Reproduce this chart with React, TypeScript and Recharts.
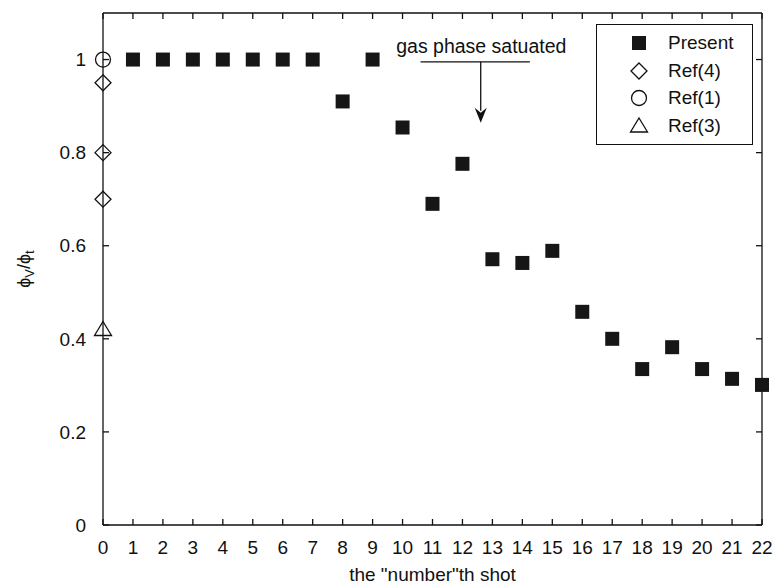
import React from "react";
import { ScatterChart, Scatter, XAxis, YAxis, Legend, ReferenceLine, ReferenceDot } from "recharts";

// shot number -> phi_v / phi_t
const shots = [1, 2, 3, 4, 5, 6, 7, 8, 9, 10, 11, 12, 13, 14, 15, 16, 17, 18, 19, 20, 21, 22];
const presentValues = [1, 1, 1, 1, 1, 1, 1, 0.91, 1, 0.854, 0.69, 0.776, 0.571, 0.563, 0.589, 0.458, 0.4, 0.335, 0.382, 0.335, 0.314, 0.301];
const ref4Values = [0.95, 0.8, 0.7];
const ref1Values = [1.0];
const ref3Values = [0.42];

const seriesNames = ["Present", "Ref(4)", "Ref(1)", "Ref(3)"];
const xTicks = [0, 1, 2, 3, 4, 5, 6, 7, 8, 9, 10, 11, 12, 13, 14, 15, 16, 17, 18, 19, 20, 21, 22];
const yTicks = [0, 0.2, 0.4, 0.6, 0.8, 1];

const present = shots.map((x, i) => ({ x, y: presentValues[i] }));
const ref4 = ref4Values.map((y) => ({ x: 0, y }));
const ref1 = ref1Values.map((y) => ({ x: 0, y }));
const ref3 = ref3Values.map((y) => ({ x: 0, y }));

const INK = "#111";
const FONT = '"Liberation Sans", Arial, Helvetica, sans-serif';

const Square = ({ cx, cy }: any) => <rect x={cx - 7} y={cy - 7} width={14} height={14} fill="#161616" />;
const Diamond = ({ cx, cy }: any) => (
  <polygon points={`${cx},${cy - 8} ${cx + 8},${cy} ${cx},${cy + 8} ${cx - 8},${cy}`} fill="none" stroke={INK} strokeWidth={1.3} />
);
const Ring = ({ cx, cy }: any) => <circle cx={cx} cy={cy} r={7.5} fill="none" stroke={INK} strokeWidth={1.3} />;
const Triangle = ({ cx, cy }: any) => (
  <polygon points={`${cx},${cy - 8} ${cx + 8.5},${cy + 6} ${cx - 8.5},${cy + 6}`} fill="none" stroke={INK} strokeWidth={1.3} />
);
const none = () => <g />;

const ICONS: Record<string, (p: any) => React.ReactElement> = {
  Present: Square,
  "Ref(4)": Diamond,
  "Ref(1)": Ring,
  "Ref(3)": Triangle,
};

const LegendBox = () => (
  <div
    style={{
      boxSizing: "border-box",
      width: 157,
      height: 121,
      paddingTop: 4,
      border: `1.5px solid ${INK}`,
      background: "#fff",
      fontFamily: FONT,
      fontSize: 19,
      color: INK,
    }}
  >
    {seriesNames.map((name) => {
      const Icon = ICONS[name];
      return (
        <div key={name} style={{ height: 27.7, display: "flex", alignItems: "center" }}>
          <svg width={20} height={20} style={{ marginLeft: 32 }}>
            <Icon cx={10} cy={10} />
          </svg>
          <span style={{ marginLeft: 19, lineHeight: "20px" }}>{name}</span>
        </div>
      );
    })}
  </div>
);

const YLabel = () => (
  <text transform="translate(30,269) rotate(-90)" textAnchor="middle" fontSize={18} fill={INK}>
    ϕ
    <tspan fontSize={13} dy={4}>V</tspan>
    <tspan fontSize={18} dy={-4}>/ϕ</tspan>
    <tspan fontSize={13} dy={4}>t</tspan>
  </text>
);

const XLabel = ({ viewBox }: any) => (
  <text x={viewBox.x + viewBox.width / 2} y={581} textAnchor="middle" fontSize={19} fill={INK}>
    the "number"th shot
  </text>
);

const Note = ({ cx, cy }: any) => (
  <text x={cx} y={cy} textAnchor="middle" fontSize={19.5} fill={INK} fontFamily={FONT}>
    gas phase satuated
  </text>
);

const ArrowHead = ({ cx, cy }: any) => (
  <polygon points={`${cx},${cy} ${cx + 6},${cy - 15} ${cx},${cy - 10} ${cx - 6},${cy - 15}`} fill={INK} />
);

export default function App() {
  return (
    <div style={{ position: "absolute", left: 0, top: 0, fontFamily: FONT }}>
      <ScatterChart width={784} height={586} margin={{ top: 13, right: 22, bottom: 31, left: 43 }}>
        <XAxis
          xAxisId="main"
          dataKey="x"
          type="number"
          domain={[0, 22]}
          ticks={xTicks}
          interval={0}
          axisLine={false}
          tickLine={false}
          tickSize={0}
          tickMargin={16}
          height={30}
          tick={{ fontSize: 19, fill: INK }}
          label={XLabel}
        />
        <XAxis xAxisId="bottomTicks" dataKey="x" type="number" domain={[0, 22]} ticks={xTicks} interval={0} orientation="bottom" mirror tick={none} tickSize={6} stroke={INK} strokeWidth={1.3} />
        <XAxis xAxisId="topTicks" dataKey="x" type="number" domain={[0, 22]} ticks={xTicks} interval={0} orientation="top" mirror tick={none} tickSize={6} stroke={INK} strokeWidth={1.3} />
        <YAxis
          yAxisId="main"
          dataKey="y"
          type="number"
          domain={[0, 1.1]}
          ticks={yTicks}
          axisLine={false}
          tickLine={false}
          tickSize={0}
          tickMargin={17}
          width={60}
          tick={{ fontSize: 19, fill: INK }}
          label={YLabel}
        />
        <YAxis yAxisId="leftTicks" dataKey="y" type="number" domain={[0, 1.1]} ticks={yTicks} interval={0} orientation="left" mirror tick={none} tickSize={6} stroke={INK} strokeWidth={1.3} />
        <YAxis yAxisId="rightTicks" dataKey="y" type="number" domain={[0, 1.1]} ticks={yTicks} interval={0} orientation="right" mirror tick={none} tickSize={6} stroke={INK} strokeWidth={1.3} />

        {/* invisible copies so the frame axes carry data and draw their ticks */}
        <Scatter xAxisId="bottomTicks" yAxisId="leftTicks" data={present} shape={none} legendType="none" isAnimationActive={false} />
        <Scatter xAxisId="topTicks" yAxisId="rightTicks" data={present} shape={none} legendType="none" isAnimationActive={false} />

        <ReferenceLine xAxisId="main" yAxisId="main" segment={[{ x: 10.6, y: 0.995 }, { x: 14.25, y: 0.995 }]} stroke={INK} strokeWidth={1.3} />
        <ReferenceLine xAxisId="main" yAxisId="main" segment={[{ x: 12.61, y: 0.995 }, { x: 12.61, y: 0.89 }]} stroke={INK} strokeWidth={1.3} />
        <ReferenceDot xAxisId="main" yAxisId="main" x={12.61} y={0.864} shape={ArrowHead} />
        <ReferenceDot xAxisId="main" yAxisId="main" x={12.63} y={1.0134} shape={Note} />

        <Scatter name="Present" xAxisId="main" yAxisId="main" data={present} shape={Square} isAnimationActive={false} />
        <Scatter name="Ref(4)" xAxisId="main" yAxisId="main" data={ref4} shape={Diamond} isAnimationActive={false} />
        <Scatter name="Ref(1)" xAxisId="main" yAxisId="main" data={ref1} shape={Ring} isAnimationActive={false} />
        <Scatter name="Ref(3)" xAxisId="main" yAxisId="main" data={ref3} shape={Triangle} isAnimationActive={false} />

        <Legend
          layout="vertical"
          align="center"
          verticalAlign="middle"
          content={LegendBox}
          wrapperStyle={{ position: "absolute", left: 596, top: 24, width: 157, height: 121 }}
        />
      </ScatterChart>
    </div>
  );
}
